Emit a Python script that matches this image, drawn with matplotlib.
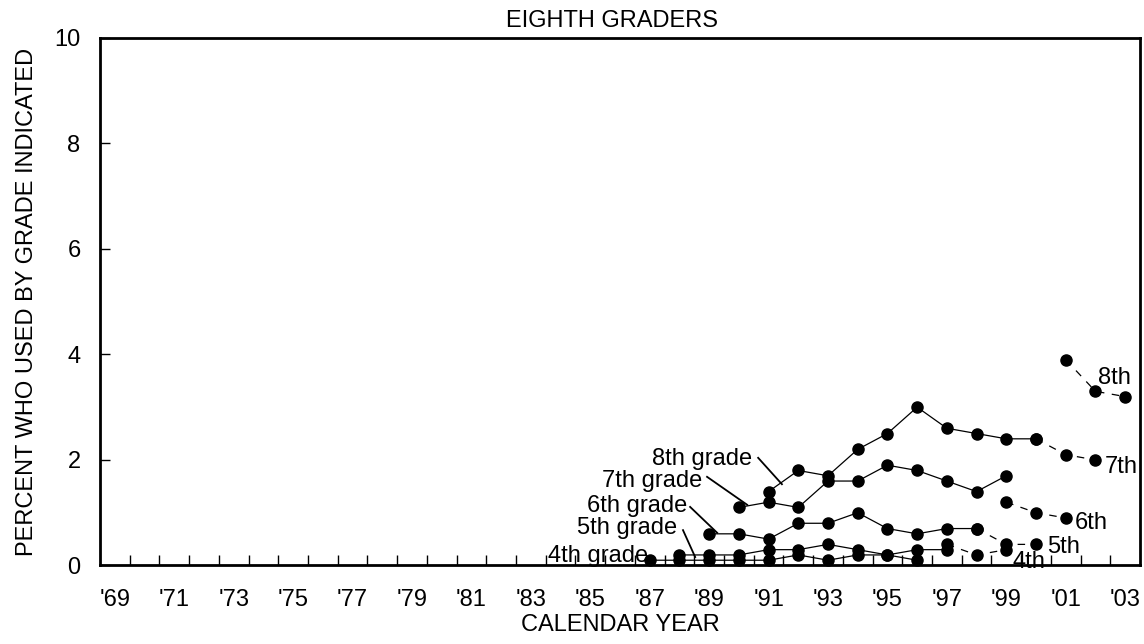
import matplotlib
matplotlib.use("Agg")
import matplotlib.pyplot as plt
from matplotlib.ticker import FixedLocator

plt.rcParams['font.family'] = ['Liberation Sans', 'DejaVu Sans']

# solid lines: grade reported, surveys 1991-2000
years_8th = [1991, 1992, 1993, 1994, 1995, 1996, 1997, 1998, 1999, 2000]
pct_8th = [1.4, 1.8, 1.7, 2.2, 2.5, 3.0, 2.6, 2.5, 2.4, 2.4]
years_7th = [1990, 1991, 1992, 1993, 1994, 1995, 1996, 1997, 1998, 1999]
pct_7th = [1.1, 1.2, 1.1, 1.6, 1.6, 1.9, 1.8, 1.6, 1.4, 1.7]
years_6th = [1989, 1990, 1991, 1992, 1993, 1994, 1995, 1996, 1997, 1998]
pct_6th = [0.6, 0.6, 0.5, 0.8, 0.8, 1.0, 0.7, 0.6, 0.7, 0.7]
years_5th = [1988, 1989, 1990, 1991, 1992, 1993, 1994, 1995, 1996, 1997]
pct_5th = [0.2, 0.2, 0.2, 0.3, 0.3, 0.4, 0.3, 0.2, 0.3, 0.3]
years_4th = [1987, 1988, 1989, 1990, 1991, 1992, 1993, 1994, 1995, 1996]
pct_4th = [0.1, 0.1, 0.1, 0.1, 0.1, 0.2, 0.1, 0.2, 0.2, 0.1]

# dashed lines: surveys 2001-2003
dyears_8th = [2001, 2002, 2003]
dpct_8th = [3.9, 3.3, 3.2]
dyears_7th = [2000, 2001, 2002]
dpct_7th = [2.4, 2.1, 2.0]
dyears_6th = [1999, 2000, 2001]
dpct_6th = [1.2, 1.0, 0.9]
dyears_5th = [1998, 1999, 2000]
dpct_5th = [0.7, 0.4, 0.4]
dyears_4th = [1997, 1998, 1999]
dpct_4th = [0.4, 0.2, 0.3]

tick_years = list(range(1969, 2004, 2))
tick_labels = ["'%02d" % (y % 100) for y in tick_years]

fig = plt.figure(figsize=(11.44, 6.44), dpi=100)
ax = fig.add_axes([0.0874, 0.1219, 0.9091, 0.8196])

solid = [(years_8th, pct_8th), (years_7th, pct_7th), (years_6th, pct_6th),
         (years_5th, pct_5th), (years_4th, pct_4th)]
for xs, ys in solid:
    ax.plot(xs, ys, color='black', lw=0.9, marker='o', markersize=8, clip_on=False)

dashed = [(dyears_8th, dpct_8th), (dyears_7th, dpct_7th), (dyears_6th, dpct_6th),
          (dyears_5th, dpct_5th), (dyears_4th, dpct_4th)]
for xs, ys in dashed:
    ax.plot(xs, ys, color='black', lw=0.9, ls=(0, (6, 6)), marker='o',
            markersize=8, clip_on=False)

fs = 17
# left labels with leader lines
ax.text(1990.45, 1.90, '8th grade', ha='right', va='baseline', fontsize=fs)
ax.plot([1990.65, 1991.45], [2.04, 1.54], color='black', lw=1.3)
ax.text(1988.76, 1.49, '7th grade', ha='right', va='baseline', fontsize=fs)
ax.plot([1988.93, 1990.28], [1.68, 1.15], color='black', lw=1.3)
ax.text(1988.26, 1.02, '6th grade', ha='right', va='baseline', fontsize=fs)
ax.plot([1988.36, 1989.27], [1.11, 0.62], color='black', lw=1.3)
ax.text(1987.92, 0.60, '5th grade', ha='right', va='baseline', fontsize=fs)
ax.plot([1988.12, 1988.53], [0.67, 0.16], color='black', lw=1.3)
ax.text(1986.94, 0.07, '4th grade', ha='right', va='baseline', fontsize=fs)

# right labels
ax.text(2002.09, 3.44, '8th', ha='left', va='baseline', fontsize=fs)
ax.text(2002.33, 1.76, '7th', ha='left', va='baseline', fontsize=fs)
ax.text(2001.32, 0.69, '6th', ha='left', va='baseline', fontsize=fs)
ax.text(2000.36, 0.24, '5th', ha='left', va='baseline', fontsize=fs)
ax.text(1999.22, -0.05, '4th', ha='left', va='baseline', fontsize=fs, zorder=5)

ax.set_xlim(1968.5, 2003.5)
ax.set_ylim(0, 10)
ax.set_yticks([0, 2, 4, 6, 8, 10])
ax.set_xticks(tick_years)
ax.set_xticklabels(tick_labels)
ax.xaxis.set_minor_locator(FixedLocator([y + 0.5 for y in range(1969, 2003)]))
ax.tick_params(axis='x', which='major', length=0, pad=17, labelsize=fs)
ax.tick_params(axis='x', which='minor', direction='in', length=7, width=1)
ax.tick_params(axis='y', direction='in', length=7, width=1, pad=14, labelsize=fs)

for s in ax.spines.values():
    s.set_linewidth(2)

ax.set_title('EIGHTH GRADERS', fontsize=fs, pad=8, x=0.492)
ax.set_xlabel('CALENDAR YEAR', fontsize=fs, labelpad=2)
ax.set_ylabel('PERCENT WHO USED BY GRADE INDICATED', fontsize=fs, labelpad=12)

fig.savefig('out.png', dpi=100)
